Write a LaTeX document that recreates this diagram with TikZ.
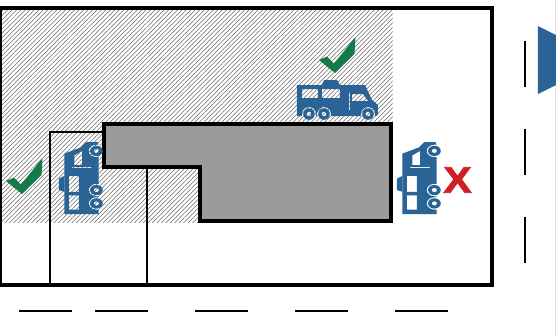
\documentclass[tikz,border=0pt]{standalone}
\usepackage{fontspec}
\setmainfont{Liberation Sans}[BoldFeatures={FakeBold=2}]
\usepackage{tikz}
\usepackage{xcolor}
\usetikzlibrary{patterns.meta}
\definecolor{rvblue}{RGB}{42,100,150}
\definecolor{okgreen}{RGB}{20,122,72}
\definecolor{nored}{RGB}{205,32,39}
\definecolor{bldgray}{RGB}{155,155,155}
\tikzset{
    lotline/.style={draw=black, line width=1.75pt, line join=miter},
    stallline/.style={draw=black, line width=1.2pt},
    roadline/.style={draw=black, line width=0.95pt},
    rv/.pic={
        \fill[rvblue, even odd rule]
            (-40,-15) -- (28,-15) -- (35,0) -- (41,5) -- (41,15) -- (38,16) -- (38,14)
            arc[start angle=0, end angle=-180, radius=7] -- (24,16) -- (-6,16) -- (-6,14)
            arc[start angle=0, end angle=-180, radius=7] -- (-20,16) -- (-21,16) -- (-21,14)
            arc[start angle=0, end angle=-180, radius=7] -- (-35,16) -- (-40,16) -- cycle
            (-35,-11) rectangle (-19,-2)
            (-15,-11) rectangle (3,-2)
            (15,-6) -- (26,-6) -- (31,1) -- (15,1) -- cycle
            (12,-8) rectangle (13,10);
        \fill[rvblue] (-15,-15) -- (-13,-20) -- (0,-20) -- (3,-15) -- cycle;
        \foreach \wx in {-28,-13,31}
            \fill[rvblue, even odd rule] (\wx,14) circle (5.8) (\wx,14) circle (2.4);
    },
    okmark/.pic={
        \fill[okgreen] (-16,-13) -- (-8,-16.5) -- (-1,-9.5) -- (20.5,-36) -- (19.5,-19) -- (0,0) -- cycle;
    }
}
\begin{document}
\begin{tikzpicture}[x=0.02cm, y=-0.02cm]
    \useasboundingbox (0,0) rectangle (556,335);
    % hatched zone
    \path[pattern={Lines[angle=45,distance=1.8pt,line width=0.3pt]}, pattern color=black!60] (0,8) rectangle (393,222);
    % stall and building
    \draw[stallline] (104,132) -- (50,132) -- (50,285);
    \draw[stallline] (147,167) -- (147,285);
    \draw[lotline, fill=bldgray] (104,124) -- (391,124) -- (391,221) -- (200,221) -- (200,167) -- (104,167) -- cycle;
    \draw[lotline] (0,8) rectangle (492,285);
    % road
    \foreach \rx/\ry in {19/72,95/148,195/248,295/348,395/448}
        \draw[roadline] (\rx,311) -- (\ry,311);
    \foreach \rx/\ry in {41/87,129/175,217/263}
        \draw[roadline] (525,\rx) -- (525,\ry);
    \draw[black!12, line width=0.4pt] (555.5,0) -- (555.5,335);
    \fill[rvblue] (538,26) -- (556,35) -- (556,85) -- (538,94) -- cycle;
    % vehicles
    \pic at (337,100) {rv};
    \pic[rotate=90, xscale=.89, yscale=1.1] at (419,178.5) {rv};
    \pic[rotate=90, xscale=.89, yscale=1.1] at (81,178.5) {rv};
    \pic at (335,73) {okmark};
    \pic at (22,194) {okmark};
    \node[text=nored, font=\fontsize{21}{21}\selectfont\bfseries, xscale=1.15, inner sep=0pt] (nomark) at (457.5,180) {X};
\end{tikzpicture}
\end{document}
